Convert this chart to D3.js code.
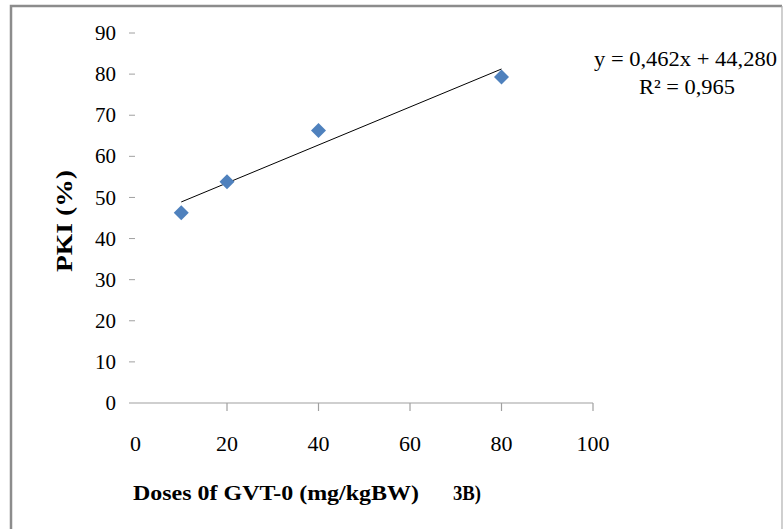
<!DOCTYPE html>
<html>
<head>
<meta charset="utf-8">
<script src="https://cdn.jsdelivr.net/npm/d3@7"></script>
<style>
  body { margin: 0; background: #fff; }
</style>
</head>
<body>
<div class="chart"></div>
<script>
var width = 784, height = 529;
var font = "'Liberation Serif', 'Times New Roman', serif";

// data
var doses = [10, 20, 40, 80];
var pki = [46.3, 53.8, 66.3, 79.3];
var xTicks = [0, 20, 40, 60, 80, 100];
var yTicks = [0, 10, 20, 30, 40, 50, 60, 70, 80, 90];
var slope = 0.462, intercept = 44.280;
var eqText = "y = 0,462x + 44,280";
var r2Text = "R\u00B2 = 0,965";

var svg = d3.select(".chart").append("svg")
    .attr("width", width)
    .attr("height", height)
    .style("font-family", font);

// outer frame
svg.append("path")
    .attr("d", "M11,529 L11,6 L782,6")
    .attr("fill", "none")
    .attr("stroke", "#8c8c8c")
    .attr("stroke-width", 2.5);
svg.append("line")
    .attr("x1", 782).attr("x2", 782).attr("y1", 6).attr("y2", 529)
    .attr("stroke", "#b0b0b0").attr("stroke-width", 1.2);

var x = d3.scaleLinear().domain([0, 100]).range([135.5, 593]);
var y = d3.scaleLinear().domain([0, 90]).range([403, 33]);

// x axis
var xAxis = svg.append("g")
    .attr("transform", "translate(0," + y(0) + ")");
xAxis.append("line")
    .attr("x1", 129).attr("x2", x(100))
    .attr("stroke", "#a0a0a0").attr("stroke-width", 1.2);
xAxis.selectAll(".xtick")
    .data(xTicks.slice(1))
  .enter().append("line")
    .attr("x1", function(d){ return x(d); })
    .attr("x2", function(d){ return x(d); })
    .attr("y1", 0).attr("y2", 8)
    .attr("stroke", "#a0a0a0").attr("stroke-width", 1.2);
xAxis.selectAll(".xlabel")
    .data(xTicks)
  .enter().append("text")
    .attr("x", function(d){ return x(d); })
    .attr("y", 48)
    .style("font-family", font)
    .style("text-anchor", "middle")
    .style("font-size", "22px")
    .text(function(d){ return d; });

// y axis (tick marks only)
var yAxis = svg.append("g");
yAxis.selectAll(".ytick")
    .data(yTicks.slice(1))
  .enter().append("line")
    .attr("x1", 129).attr("x2", 135)
    .attr("y1", function(d){ return y(d); })
    .attr("y2", function(d){ return y(d); })
    .attr("stroke", "#a0a0a0").attr("stroke-width", 1);
yAxis.selectAll(".ylabel")
    .data(yTicks)
  .enter().append("text")
    .attr("x", 116)
    .attr("y", function(d){ return y(d); })
    .attr("dy", "0.34em")
    .style("font-family", font)
    .style("text-anchor", "end")
    .style("font-size", "21px")
    .text(function(d){ return d; });

// axis titles
svg.append("text")
    .attr("transform", "translate(72,221) rotate(-90)")
    .attr("textLength", 102)
    .attr("lengthAdjust", "spacingAndGlyphs")
    .style("font-family", font)
    .style("text-anchor", "middle")
    .style("font-size", "23px")
    .style("font-weight", "bold")
    .text("PKI (%)");

svg.append("text")
    .attr("x", 133).attr("y", 500)
    .attr("textLength", 286)
    .attr("lengthAdjust", "spacingAndGlyphs")
    .style("font-family", font)
    .style("font-size", "22px")
    .style("font-weight", "bold")
    .text("Doses 0f GVT-0 (mg/kgBW)");

svg.append("text")
    .attr("x", 453).attr("y", 500)
    .attr("textLength", 28)
    .attr("lengthAdjust", "spacingAndGlyphs")
    .style("font-family", font)
    .style("font-size", "22px")
    .style("font-weight", "bold")
    .text("3B)");

// trendline
var fit = d3.extent(doses).map(function(d){ return [d, slope * d + intercept]; });
svg.append("path")
    .datum(fit)
    .attr("d", d3.line().x(function(d){ return x(d[0]); }).y(function(d){ return y(d[1]); }))
    .attr("stroke", "#000")
    .attr("stroke-width", 1)
    .attr("fill", "none");

// markers
svg.selectAll(".point")
    .data(doses)
  .enter().append("path")
    .attr("class", "point")
    .attr("transform", function(d, i){ return "translate(" + x(d) + "," + y(pki[i]) + ")"; })
    .attr("d", "M0,-7.5L7.5,0L0,7.5L-7.5,0Z")
    .attr("fill", "#4f81bd");

// equation
svg.append("text")
    .attr("x", 685.5).attr("y", 66)
    .attr("textLength", 183)
    .attr("lengthAdjust", "spacingAndGlyphs")
    .style("font-family", font)
    .style("text-anchor", "middle")
    .style("font-size", "22px")
    .text(eqText);
svg.append("text")
    .attr("x", 687).attr("y", 94)
    .attr("textLength", 96)
    .attr("lengthAdjust", "spacingAndGlyphs")
    .style("font-family", font)
    .style("text-anchor", "middle")
    .style("font-size", "22px")
    .text(r2Text);
</script>
</body>
</html>
